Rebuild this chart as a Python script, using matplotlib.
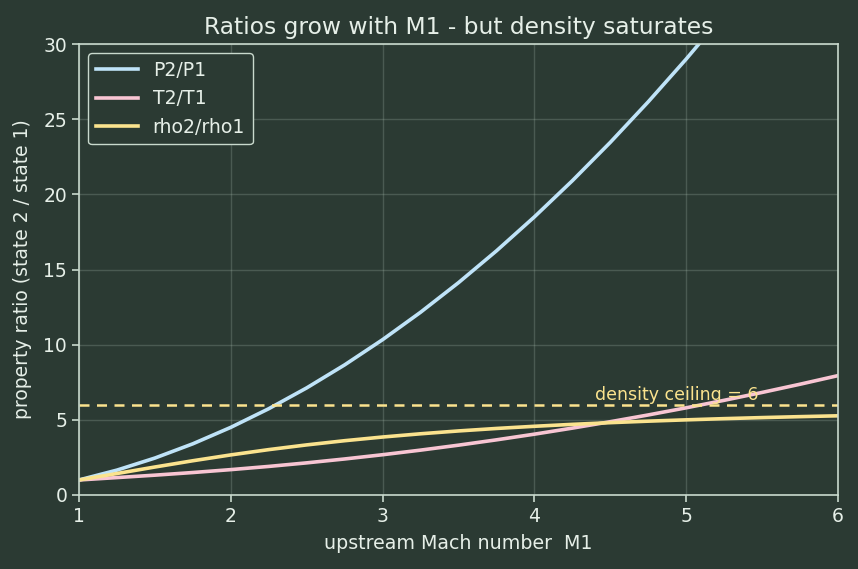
import matplotlib
matplotlib.use("Agg")
import matplotlib.pyplot as plt

mach = [1.0, 1.25, 1.5, 1.75, 2.0, 2.25, 2.5, 2.75, 3.0, 3.25, 3.5, 3.75,
        4.0, 4.25, 4.5, 4.75, 5.0, 5.25, 5.5, 5.75, 6.0]
p_ratio = [1.0, 1.656, 2.458, 3.406, 4.5, 5.740, 7.125, 8.656, 10.333, 12.156,
           14.125, 16.240, 18.5, 20.906, 23.458, 26.156, 29.0, 31.990, 35.125,
           38.406, 41.833]
t_ratio = [1.0, 1.159, 1.320, 1.495, 1.688, 1.901, 2.138, 2.397, 2.679, 2.985,
           3.315, 3.669, 4.047, 4.449, 4.875, 5.325, 5.8, 6.299, 6.822, 7.369,
           7.941]
rho_ratio = [1.0, 1.429, 1.862, 2.279, 2.667, 3.019, 3.333, 3.612, 3.857, 4.072,
             4.261, 4.426, 4.571, 4.699, 4.812, 4.912, 5.0, 5.079, 5.149, 5.212,
             5.268]
ceiling = 6

bg = "#2b3a33"
fg = "#e6efe8"
spine = "#c9d9cd"
c_p = "#bfe3f8"
c_t = "#f8c5d3"
c_rho = "#fbe38e"

fig = plt.figure(figsize=(8.58, 5.69), dpi=100, facecolor=bg)
ax = fig.add_axes([79/858, 1 - 495/569, (838-79)/858, (495-44)/569])
ax.set_facecolor(bg)

ax.plot(mach, p_ratio, color=c_p, lw=2.6, label="P2/P1")
ax.plot(mach, t_ratio, color=c_t, lw=2.6, label="T2/T1")
ax.plot(mach, rho_ratio, color=c_rho, lw=2.6, label="rho2/rho1")
ax.axhline(ceiling, color=c_rho, lw=1.8, ls=(0, (4, 3)))
ax.text(4.4, 6.05, "density ceiling = 6", color=c_rho, fontsize=12.5, va="bottom")

ax.set_xlim(1, 6)
ax.set_ylim(0, 30)
ax.set_xticks([1, 2, 3, 4, 5, 6])
ax.set_yticks([0, 5, 10, 15, 20, 25, 30])
ax.grid(True, color="#a9bdb0", alpha=0.25, lw=1.0)
for s in ax.spines.values():
    s.set_color(spine)
    s.set_linewidth(1.2)
ax.tick_params(colors=spine, labelcolor=fg, labelsize=13.5, length=5, width=1.2)

ax.set_xlabel("upstream Mach number  M1", color=fg, fontsize=13.7, labelpad=6)
ax.set_ylabel("property ratio (state 2 / state 1)", color=fg, fontsize=13.5, labelpad=8)
ax.set_title("Ratios grow with M1 - but density saturates", color=fg, fontsize=16.8, pad=7)

leg = ax.legend(loc="upper left", fontsize=13.6, facecolor=bg, edgecolor=spine,
                labelcolor=fg, framealpha=1, handlelength=2.2, labelspacing=0.5)

fig.savefig("out.png", dpi=100, facecolor=bg)
